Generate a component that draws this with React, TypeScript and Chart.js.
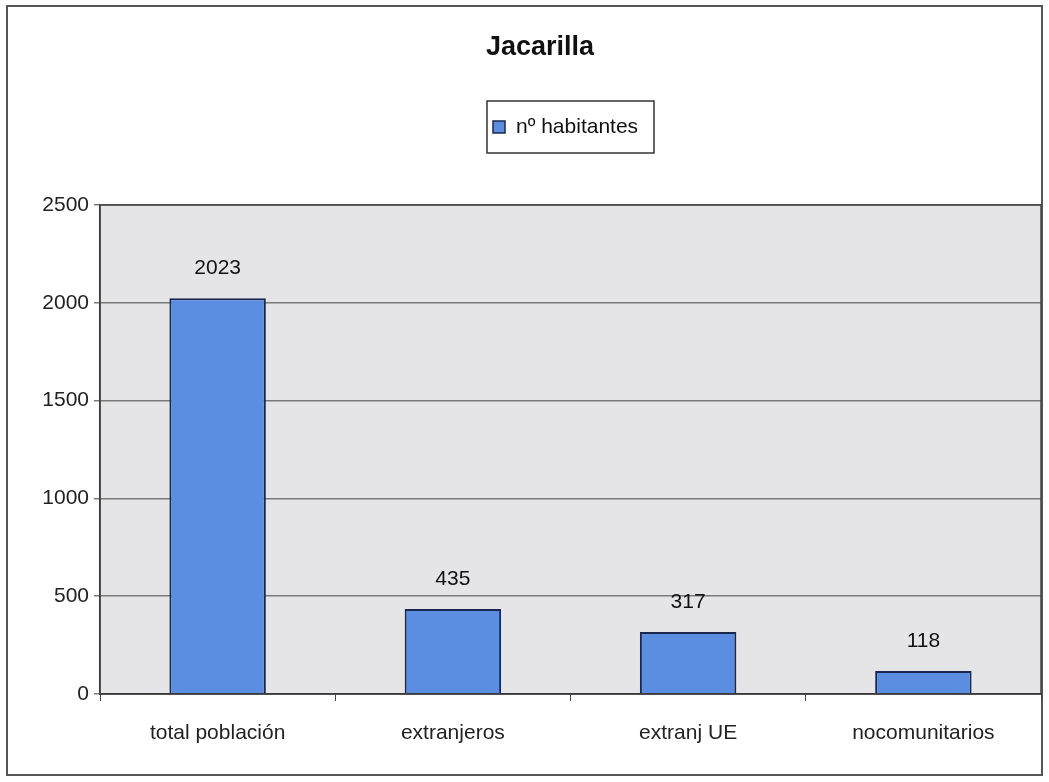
import React, { useEffect, useRef } from "react";
import { Chart, registerables } from "chart.js";

Chart.register(...registerables);

const TITLE = "Jacarilla";
const SERIES_LABEL = "nº habitantes";
const categories = ["total población", "extranjeros", "extranj UE", "nocomunitarios"];
const values = [2023, 435, 317, 118];
const yTicks = [0, 500, 1000, 1500, 2000, 2500];

const FONT = "'Liberation Sans', Arial, sans-serif";
const BAR_FILL = "#5b8ee0";
const BAR_EDGE = "#1a2850";

const decorPlugin = {
  id: "decor",
  beforeDraw(chart: any) {
    const { ctx, chartArea: a, width, height } = chart;
    ctx.save();
    ctx.fillStyle = "#ffffff";
    ctx.fillRect(0, 0, width, height);
    ctx.strokeStyle = "#555555";
    ctx.lineWidth = 2;
    ctx.strokeRect(7, 6, 1035, 769);
    ctx.fillStyle = "#e5e5e7";
    ctx.fillRect(a.left, a.top, a.right - a.left, a.bottom - a.top);
    ctx.restore();
  },
  afterDraw(chart: any) {
    const { ctx, chartArea: a } = chart;
    ctx.save();
    ctx.strokeStyle = "#444444";
    ctx.lineWidth = 1.5;
    ctx.strokeRect(a.left, a.top, a.right - a.left, a.bottom - a.top);
    ctx.fillStyle = "#111111";
    ctx.font = `bold 27px ${FONT}`;
    ctx.textAlign = "center";
    ctx.textBaseline = "middle";
    ctx.fillText(TITLE, 540, 48);
    ctx.strokeStyle = "#333333";
    ctx.lineWidth = 1.5;
    ctx.strokeRect(487, 101, 167, 52);
    ctx.fillStyle = BAR_FILL;
    ctx.fillRect(493, 121, 12, 12);
    ctx.strokeStyle = BAR_EDGE;
    ctx.lineWidth = 1.5;
    ctx.strokeRect(493, 121, 12, 12);
    ctx.fillStyle = "#111111";
    ctx.font = `21px ${FONT}`;
    ctx.textAlign = "left";
    ctx.fillText(SERIES_LABEL, 516, 127);
    const meta = chart.getDatasetMeta(0);
    ctx.textAlign = "center";
    ctx.font = `21px ${FONT}`;
    meta.data.forEach((el: any, i: number) => {
      ctx.fillText(String(values[i]), el.x, el.y - 30);
    });
    ctx.restore();
  },
};

export default function App() {
  const ref = useRef<HTMLCanvasElement>(null);
  useEffect(() => {
    document.body.style.margin = "0";
    const chart = new Chart(ref.current!, {
      type: "bar",
      data: {
        labels: categories,
        datasets: [
          {
            label: SERIES_LABEL,
            data: values,
            backgroundColor: BAR_FILL,
            borderColor: BAR_EDGE,
            borderWidth: 2,
            categoryPercentage: 1,
            barPercentage: 0.41,
          },
        ],
      },
      options: {
        animation: false,
        responsive: false,
        maintainAspectRatio: false,
        layout: { padding: { top: 205, left: 0, right: 8, bottom: 0 } },
        plugins: { legend: { display: false }, title: { display: false }, tooltip: { enabled: false } },
        scales: {
          x: {
            grid: { drawOnChartArea: false, drawTicks: true, tickLength: 7, color: "#444444", offset: true },
            border: { display: true, color: "#222222", width: 1.5 },
            ticks: { color: "#222222", font: { family: FONT, size: 21 }, padding: 20 },
            afterFit: (s: any) => { s.height = 88; },
          },
          y: {
            min: 0,
            max: 2500,
            afterBuildTicks: (s: any) => { s.ticks = yTicks.map((v) => ({ value: v })); },
            grid: { color: "#7a7a7a", lineWidth: 1.5, tickLength: 6, drawTicks: true },
            border: { display: true, color: "#222222", width: 1.5 },
            ticks: { color: "#222222", font: { family: FONT, size: 21 }, padding: 5, callback: (v: any) => String(v) },
            afterFit: (s: any) => { s.width = 100; },
          },
        },
      },
      plugins: [decorPlugin],
    });
    return () => chart.destroy();
  }, []);
  return (
    <div style={{ width: 1049, height: 782 }}>
      <canvas ref={ref} width={1049} height={782} style={{ width: 1049, height: 782, display: "block" }} />
    </div>
  );
}
